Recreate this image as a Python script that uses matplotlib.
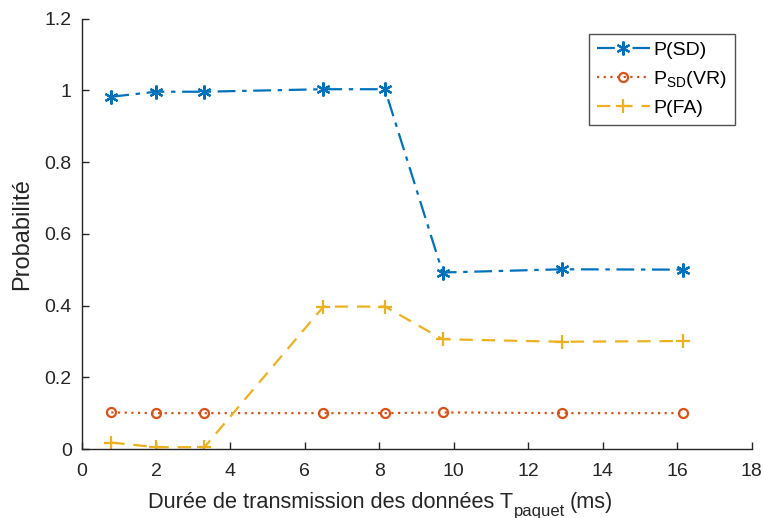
import matplotlib
matplotlib.use("Agg")
import matplotlib.pyplot as plt

plt.rcParams['font.family'] = ['Liberation Sans', 'DejaVu Sans']
plt.rcParams['mathtext.fontset'] = 'custom'
plt.rcParams['mathtext.rm'] = 'Liberation Sans'
plt.rcParams['mathtext.it'] = 'Liberation Sans'

x = [0.8, 2.0, 3.3, 6.5, 8.15, 9.7, 12.9, 16.15]
p_sd = [0.982, 0.996, 0.996, 1.003, 1.003, 0.492, 0.501, 0.500]
p_vr = [0.102, 0.100, 0.100, 0.100, 0.100, 0.102, 0.100, 0.100]
p_fa = [0.018, 0.005, 0.005, 0.397, 0.397, 0.306, 0.299, 0.301]

xticks = [0, 2, 4, 6, 8, 10, 12, 14, 16, 18]
yticks = [0, 0.2, 0.4, 0.6, 0.8, 1.0, 1.2]
yticklabels = ['0', '0.2', '0.4', '0.6', '0.8', '1', '1.2']

W, H = 764, 518
fig = plt.figure(figsize=(W / 100, H / 100), dpi=100)
ax = fig.add_axes([0.1067, 0.1332, 0.877, 0.831])

c1, c2, c3 = '#0072BD', '#D95319', '#EDB120'
ax.plot(x, p_sd, linestyle=(0, (8, 3, 2, 3)), color=c1, marker=(6, 2, 0),
        markersize=10, markeredgewidth=1.6, lw=1.6, label='P(SD)')
ax.plot(x, p_vr, linestyle=(0, (1, 2)), color=c2, marker='o', markersize=6.5,
        lw=1.6, markerfacecolor='none', markeredgewidth=1.6,
        label=r'P$_{\mathrm{SD}}$(VR)')
ax.plot(x, p_fa, linestyle=(0, (6, 4)), color=c3, marker='+', markersize=9.5,
        lw=1.6, markeredgewidth=1.6, label='P(FA)')

ax.set_xlim(0, 18)
ax.set_ylim(0, 1.2)
ax.set_xticks(xticks)
ax.set_yticks(yticks)
ax.set_yticklabels(yticklabels)
ax.spines['top'].set_visible(False)
ax.spines['right'].set_visible(False)
for s in ['left', 'bottom']:
    ax.spines[s].set_color('#262626')
    ax.spines[s].set_linewidth(1.0)
ax.tick_params(direction='in', length=5, width=1.0, colors='#262626',
               labelsize=14, labelcolor='#262626')
ax.tick_params(axis='x', pad=10)
ax.tick_params(axis='y', pad=7)

ax.set_ylabel('Probabilité', fontsize=17, color='#262626', labelpad=8)

# x label built from pieces so that the subscript sits low like the original
base_y = (H - 508) / H
t1 = fig.text(148 / W, base_y, 'Durée de transmission des données T',
              fontsize=15.7, color='#262626', ha='left', va='baseline')
fig.canvas.draw()
r = fig.canvas.get_renderer()
bb1 = t1.get_window_extent(r)
t2 = fig.text((bb1.x1 + 1) / W, (H - 516) / H, 'paquet',
              fontsize=12, color='#262626', ha='left', va='baseline')
bb2 = t2.get_window_extent(r)
t3 = fig.text((bb2.x1 + 4) / W, base_y, '(ms)',
              fontsize=15.7, color='#262626', ha='left', va='baseline')

leg = ax.legend(loc='upper right', bbox_to_anchor=(0.975, 0.965), fontsize=14,
                frameon=True, fancybox=False, handlelength=2.7,
                borderpad=0.4, labelspacing=0.5, handletextpad=0.2,
                borderaxespad=0)
leg.get_frame().set_edgecolor('#262626')
leg.get_frame().set_linewidth(1.0)

fig.savefig('out.png', dpi=100)
